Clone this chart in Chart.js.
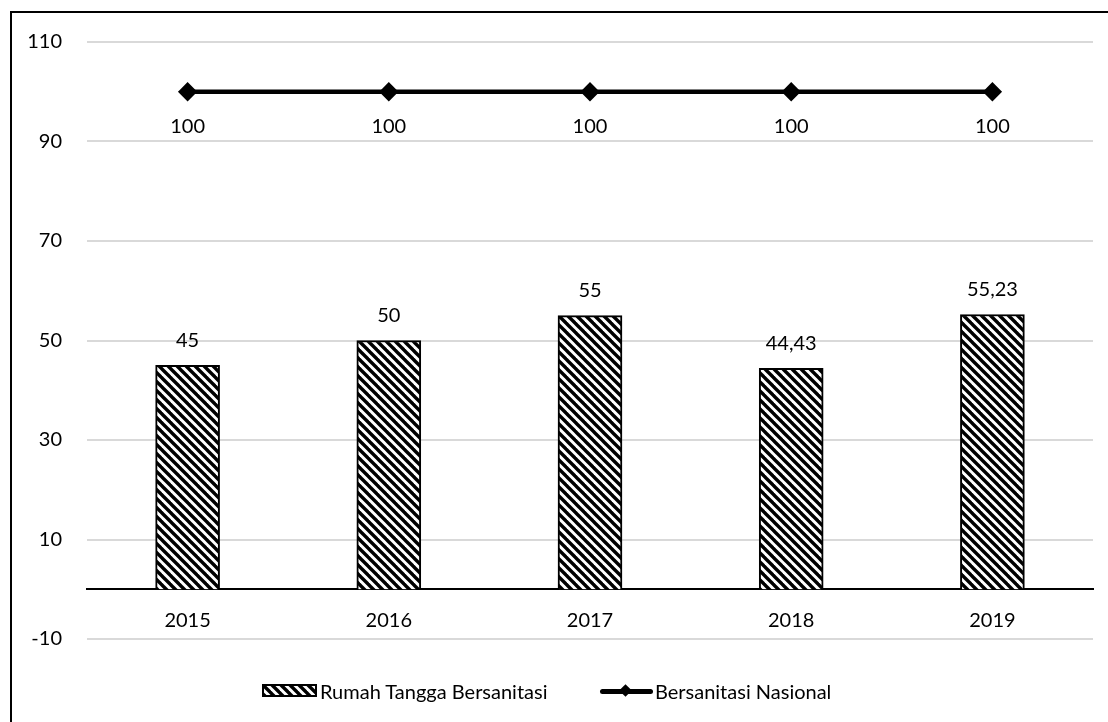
<!DOCTYPE html>
<html>
<head>
<meta charset="utf-8">
<script src="https://cdn.jsdelivr.net/npm/chart.js@4/dist/chart.umd.min.js"></script>
<style>
  body { margin: 0; background: #fff; font-family: Lato, sans-serif; }
  #wrap { position: relative; width: 1108px; height: 722px; overflow: hidden; }
  #frame { position: absolute; left: 10px; top: 11px; width: 2000px; height: 2000px;
           border-left: 2px solid #000; border-top: 2px solid #000; }
  #chart { position: absolute; left: 0; top: 0; }
  .lg { position: absolute; font-size: 20px; color: #000; line-height: 24px; white-space: nowrap; }
</style>
</head>
<body>
<div id="wrap">
  <div id="frame"></div>
  <canvas id="chart" width="1108" height="722"></canvas>
  <canvas id="legBox" width="55" height="13" style="position:absolute;left:262px;top:684px;"></canvas>
  <div class="lg" style="left:320px;top:679px;">Rumah Tangga Bersanitasi</div>
  <div style="position:absolute;left:600px;top:689px;width:53px;height:5px;background:#000;border-radius:3px;"></div>
  <div style="position:absolute;left:621px;top:686px;width:9px;height:9px;background:#000;transform:rotate(45deg);"></div>
  <div class="lg" style="left:655px;top:679px;">Bersanitasi Nasional</div>
</div>
<script>
var years = ["2015", "2016", "2017", "2018", "2019"];
var rumahTangga = [45, 50, 55, 44.43, 55.23];
var nasional = [100, 100, 100, 100, 100];
var yTicks = { min: -10, max: 110, step: 20 };

// diagonal hatch like excel "wide downward diagonal"
function makeHatch() {
  var s = 9;
  var c = document.createElement("canvas");
  c.width = s; c.height = s;
  var g = c.getContext("2d");
  g.fillStyle = "#fff";
  g.fillRect(0, 0, s, s);
  g.strokeStyle = "#000";
  g.lineWidth = 3.4;
  [-s, 0, s].forEach(function(o) {
    g.beginPath();
    g.moveTo(-2, -2 + o);
    g.lineTo(s + 2, s + 2 + o);
    g.stroke();
  });
  return c;
}
var hatchCanvas = makeHatch();
var ctx = document.getElementById("chart").getContext("2d");
var hatch = ctx.createPattern(hatchCanvas, "repeat");

// legend swatch
var lb = document.getElementById("legBox").getContext("2d");
lb.fillStyle = lb.createPattern(hatchCanvas, "repeat");
lb.fillRect(0, 0, 55, 13);
lb.strokeStyle = "#000";
lb.lineWidth = 2;
lb.strokeRect(1, 1, 53, 11);

function fmt(v) {
  return String(v).replace(".", ",");
}

var valueLabels = {
  id: "valueLabels",
  afterDatasetsDraw: function(chart) {
    var c = chart.ctx;
    c.save();
    c.font = "20px Lato";
    c.fillStyle = "#000";
    c.textAlign = "center";
    c.textBaseline = "middle";
    chart.getDatasetMeta(0).data.forEach(function(el, i) {
      c.fillText(fmt(rumahTangga[i]), el.x, el.y - 25);
    });
    chart.getDatasetMeta(1).data.forEach(function(el, i) {
      c.fillText(fmt(nasional[i]), el.x, el.y + 35);
    });
    c.restore();
  }
};

var chart = new Chart(ctx, {
  type: "bar",
  data: {
    labels: years,
    datasets: [{
      type: "bar",
      label: "Rumah Tangga Bersanitasi",
      data: rumahTangga,
      backgroundColor: hatch,
      borderColor: "#000",
      borderWidth: 2,
      barThickness: 64,
      order: 2
    }, {
      type: "line",
      label: "Bersanitasi Nasional",
      data: nasional,
      borderColor: "#000",
      borderWidth: 4.5,
      pointStyle: "rectRot",
      pointRadius: 6.5,
      pointBackgroundColor: "#000",
      pointBorderColor: "#000",
      order: 1
    }]
  },
  options: {
    responsive: false,
    animation: false,
    layout: { padding: { top: 42, right: 15, bottom: 83, left: 0 } },
    plugins: { legend: { display: false }, tooltip: { enabled: false } },
    scales: {
      x: {
        position: { y: 0 },
        grid: { display: false },
        border: { color: "#000", width: 2 },
        ticks: { color: "#000", font: { family: "Lato", size: 20 }, padding: 11 }
      },
      y: {
        min: yTicks.min,
        max: yTicks.max,
        ticks: { stepSize: yTicks.step, color: "#000", font: { family: "Lato", size: 20 }, padding: 25 },
        grid: { color: "#d9d9d9", lineWidth: 2, drawTicks: false },
        border: { display: false },
        afterFit: function(s) { s.width = 87; }
      }
    }
  },
  plugins: [valueLabels]
});
</script>
</body>
</html>
